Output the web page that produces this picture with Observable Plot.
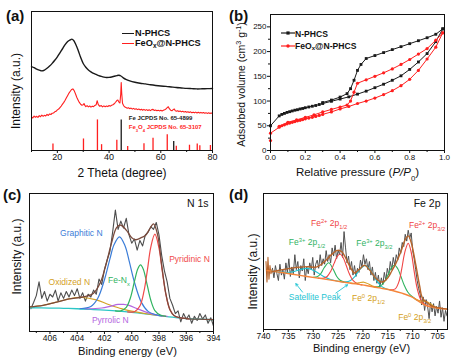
<!DOCTYPE html>
<html><head><meta charset="utf-8">
<script src="https://cdn.jsdelivr.net/npm/d3@7"></script>
<script src="https://cdn.jsdelivr.net/npm/@observablehq/plot@0.6"></script>
<style>
html,body{margin:0;padding:0;background:#fff}
#fig{position:relative;width:454px;height:359px;overflow:hidden;font-family:'Liberation Sans',Arial,Helvetica,sans-serif;color:#111}
.abs{position:absolute;white-space:nowrap;line-height:1}
.plab{font-weight:bold;font-size:15px;transform:translateY(-50%)}
.leg{font-weight:bold;transform:translateY(-50%)}
.leg sub{font-size:70%;vertical-align:-0.25em;line-height:0}
</style></head>
<body><div id="fig"></div>
<script>
// ---------------- (a) XRD ----------------
const xrdNPHCS = [[10,60.4],[11,59.6],[12,58.5],[13,57.8],[14,57.3],[15,57.9],[16,59.2],[17,60.8],[18,62.7],[19,64.9],[20,67.4],[21,70.3],[22,73.2],[23,76.2],[24,78.4],[25,79.6],[25.6,80.1],[26.3,79.2],[27,76.8],[28,72.3],[29,67.0],[30,62.6],[31,59.9],[32,57.9],[33,56.6],[34,55.5],[35,54.7],[36,53.9],[37,53.3],[38,52.8],[39,52.5],[40,52.6],[41,52.9],[42,53.4],[43,53.9],[43.8,54.1],[44.6,53.6],[45.5,52.3],[46.5,51.2],[48,50.1],[50,49.1],[52,48.4],[54,47.9],[56,47.3],[58,46.8],[60,46.4],[62,46.1],[64,45.7],[66,45.3],[68,45.0],[70,44.7],[72,44.5],[74,44.3],[76,44.4],[78,44.5],[80,44.6]];
const xrdFeOx = [[10,24.2],[10.5,23.4],[11,24.8],[11.5,23.9],[12,24.6],[12.5,23.8],[13,25.1],[13.5,24.3],[14,25.4],[14.5,24.6],[15,25.3],[15.5,24.8],[16,26.0],[16.5,25.2],[17,26.3],[17.5,25.9],[18,26.8],[18.5,27.0],[19,27.8],[19.5,28.2],[20,29.2],[20.5,29.8],[21,30.9],[21.5,32.0],[22,33.4],[22.5,34.6],[23,36.1],[23.5,37.9],[24,39.6],[24.5,41.3],[25,42.6],[25.5,43.9],[26,44.3],[26.5,43.1],[27,40.8],[27.5,38.3],[28,36.4],[28.5,34.6],[29,33.3],[29.5,32.6],[30,32.9],[30.3,33.8],[30.7,32.2],[31,31.6],[31.5,32.3],[32,31.4],[32.5,32.0],[33,31.2],[33.5,31.9],[34,31.5],[34.5,32.4],[35,32.9],[35.4,35.8],[35.8,33.2],[36.3,31.9],[37,32.3],[37.5,31.4],[38,32.1],[38.5,31.5],[39,32.0],[39.5,31.6],[40,32.4],[40.5,31.9],[41,32.6],[41.5,32.9],[42,33.6],[42.5,34.7],[43,35.9],[43.4,36.3],[43.8,34.8],[44.2,34.2],[44.5,40.5],[44.7,48.9],[44.9,41.0],[45.2,34.0],[45.6,32.4],[46,31.4],[46.5,31.0],[47,30.4],[47.5,30.8],[48,30.1],[48.5,30.5],[49,29.8],[49.5,30.3],[50,29.6],[50.5,30.0],[51,29.4],[51.5,29.9],[52,29.2],[52.5,29.7],[53,29.0],[53.5,29.6],[54,28.9],[54.5,29.4],[55,28.8],[55.5,29.3],[56,28.7],[56.5,29.4],[57,29.6],[57.5,28.8],[58,29.1],[58.5,28.6],[59,29.0],[59.5,28.5],[60,28.9],[60.5,28.4],[61,28.9],[61.5,29.3],[62,29.9],[62.5,30.8],[62.9,31.5],[63.3,30.1],[63.8,29.0],[64.3,28.6],[64.8,29.4],[65.2,29.9],[65.6,28.7],[66,28.2],[66.5,28.6],[67,28.0],[67.5,28.4],[68,27.8],[68.5,28.2],[69,27.6],[69.5,28.1],[70,27.5],[70.5,27.9],[71,27.4],[71.5,27.8],[72,27.2],[72.5,27.6],[73,27.1],[73.5,27.6],[74,27.0],[74.5,27.5],[75,27.0],[75.5,27.4],[76,26.9],[76.5,27.3],[77,26.8],[77.5,27.2],[78,26.7],[78.5,27.1],[79,26.7],[79.5,27.0],[80,26.7]];
const feRefTheta = [44.7, 65.0];
const feRefInt = [22, 6.5];
const fe3o4RefTheta = [18.3, 30.1, 35.5, 37.1, 43.0, 47.2, 53.5, 57.0, 62.5, 66.0, 71.1, 74.1, 75.1, 79.2];
const fe3o4RefInt = [4.6, 8.3, 22, 4.2, 7.4, 2.9, 4.9, 8.8, 11.4, 3.0, 3.8, 4.7, 3.5, 3.6];
const jcpdsLabels = ["Fe JCPDS No. 65-4899", "Fe_{3}O_{4} JCPDS No. 65-3107"];
const jcpdsLabelTheta = 47.6;
const jcpdsLabelY = [23.6, 17.1];
const xrdTicks = [20, 40, 60, 80];
const xrdMinor = [10, 30, 50, 70];

// ---------------- (b) N2 isotherms ----------------
const isoNPHCSads = [[0.0,50],[0.05,70],[0.065,73],[0.08,75],[0.095,77],[0.11,78.5],[0.125,80],[0.14,81.5],[0.155,82.5],[0.17,84],[0.185,85],[0.2,86.5],[0.22,88],[0.24,89.5],[0.26,91],[0.28,93],[0.3,95],[0.35,99.5],[0.4,104],[0.45,108.5],[0.5,114],[0.55,120],[0.6,127],[0.65,134],[0.7,142],[0.75,151],[0.8,164],[0.85,179],[0.9,196],[0.95,220],[0.99,246]];
const isoNPHCSdes = [[0.99,246],[0.95,235],[0.9,228],[0.85,222],[0.8,216],[0.75,210],[0.7,204],[0.65,198],[0.6,192],[0.55,186],[0.52,174],[0.5,162],[0.48,142],[0.46,125],[0.44,115],[0.4,108],[0.35,102],[0.3,97]];
const isoFeOxAds = [[0.0,20],[0.0,35],[0.05,47],[0.065,50],[0.08,52],[0.095,54],[0.11,55.5],[0.125,57],[0.14,58.5],[0.155,60],[0.17,61],[0.185,62.5],[0.2,64],[0.22,65.5],[0.24,67],[0.26,69],[0.28,71],[0.3,73],[0.35,78],[0.4,84],[0.45,89],[0.5,95],[0.55,100],[0.6,106],[0.65,113],[0.7,121],[0.75,131],[0.8,144],[0.85,162],[0.9,185],[0.95,209],[0.99,238]];
const isoFeOxDes = [[0.99,238],[0.95,223],[0.9,206],[0.85,195],[0.8,184],[0.75,174],[0.7,165],[0.65,157],[0.6,150],[0.55,143],[0.5,136],[0.48,118],[0.46,100],[0.44,92],[0.4,88],[0.35,83],[0.3,78],[0.25,72],[0.2,67],[0.15,62],[0.1,57],[0.05,49]];
const isoXTicks = [0, 0.2, 0.4, 0.6, 0.8, 1.0];
const isoXMinor = [0.1, 0.3, 0.5, 0.7, 0.9];
const isoYTicks = [0, 50, 100, 150, 200, 250];
const isoYMinor = [25, 75, 125, 175, 225];

// ---------------- (c) N 1s ----------------
const n1sRaw = [[407.4,16.5],[407.2,21],[407.0,26],[406.8,36],[406.6,24],[406.4,29],[406.2,22],[406.0,27],[405.8,25],[405.6,30],[405.4,22],[405.2,28],[405.0,24],[404.8,29],[404.6,25],[404.4,30],[404.2,26],[404.0,31],[403.8,24],[403.6,28],[403.4,22],[403.2,27],[403.0,25],[402.8,30],[402.6,27],[402.4,38],[402.2,34],[402.0,45],[401.8,52],[401.6,58],[401.4,72],[401.2,88],[401.0,74],[400.8,80],[400.6,75],[400.4,82],[400.2,70],[400.0,64],[399.8,67],[399.6,59],[399.4,66],[399.2,62],[399.0,70],[398.8,72],[398.6,76],[398.4,74],[398.2,79],[398.0,70],[397.8,55],[397.6,44],[397.4,36],[397.2,24],[397.0,19],[396.8,13],[396.6,15],[396.4,7],[396.2,13],[396.0,9],[395.8,12],[395.6,6],[395.4,11],[395.2,8],[395.0,13],[394.8,9],[394.6,12],[394.4,6],[394.2,10],[394.0,4]];
const n1sEnvelope = [[407.5,17.8],[406.5,19.0],[405.5,21.3],[404.6,23.6],[403.6,25.0],[402.8,27.8],[402.3,35.5],[401.9,48],[401.5,63.5],[401.1,75.5],[400.8,77],[400.4,73.5],[400.0,68],[399.7,66.5],[399.3,68],[399.0,69.5],[398.7,74],[398.4,78],[398.1,70],[397.8,48],[397.5,27.5],[397.2,16],[396.9,11.6],[396.5,10.1],[396,9.4],[395,8.9],[394,8.5]];
const n1sBackground = [[407.5,17.2],[406,17.0],[405,16.8],[404,16.5],[403,16.1],[402,15.5],[401,14.8],[400,13.9],[399,12.8],[398,11.6],[397,10.4],[396,9.4],[395,8.9],[394,8.5]];
const n1sOxidized = [[407.5,17.8],[406.5,19.0],[405.5,21.35],[404.6,23.7],[403.6,24.65],[402.6,22.9],[401.7,19.6],[400.7,16.4],[399.7,14.2],[398.7,12.5],[397.5,11.0]];
const n1sGraphitic = [[403.8,16.5],[403.0,18.1],[402.5,23.9],[402.0,37.5],[401.6,52.6],[401.3,62.8],[400.9,68.6],[400.5,62.3],[400.2,51.6],[399.8,35.7],[399.3,21.3],[398.8,14.6],[398.3,12.35],[397.8,11.35]];
const n1sPyrrolic = [[403.4,16.35],[402.2,17.05],[401.6,18.25],[401.0,19.6],[400.6,19.65],[400.2,18.9],[399.6,16.55],[399.0,14.25],[398.2,12.1],[397.4,10.9]];
const n1sFeNx = [[401.2,14.95],[400.8,15.0],[400.4,17.5],[400.1,24.3],[399.8,36.3],[399.55,45.5],[399.35,48.25],[399.15,45.1],[398.9,35.3],[398.6,22.65],[398.3,15.2],[397.9,11.9],[397.5,11.0]];
const n1sPyridinic = [[400.3,14.2],[399.8,14.35],[399.4,18.5],[399.1,29.2],[398.85,44.5],[398.6,61.2],[398.3,70.5],[398.0,60.5],[397.75,43.2],[397.5,27.3],[397.2,15.8],[396.8,10.85],[396.3,9.7],[395.8,9.2]];
const n1sLabelText = ["Graphitic N", "Pyridinic N", "Oxidized N", "Fe-N_{x}", "Pyrrolic N"];
const n1sLabelBE = [403.7, 395.76, 404.58, 400.94, 401.57];
const n1sLabelY = [71.2, 52.3, 35.6, 37, 8];
const n1sTicks = [406, 404, 402, 400, 398, 396, 394];
const n1sMinor = [407, 405, 403, 401, 399, 397, 395];

// ---------------- (d) Fe 2p ----------------
const fe2pRawLead = [[739.5,50],[739.3,35],[739.1,53],[738.9,37],[738.7,47],[738.5,41],[738.3,44]];
const fe2pRaw = [[738.2,45],[737.9,38],[737.6,47],[737.3,41],[737.0,36],[736.7,48],[736.4,40],[736.1,44],[735.8,37],[735.5,49],[735.2,42],[734.9,52],[734.6,39],[734.3,46],[734.0,41],[733.7,55],[733.4,44],[733.1,50],[732.8,38],[732.5,47],[732.2,43],[731.9,52],[731.6,36],[731.3,46],[731.0,41],[730.7,49],[730.4,44],[730.1,53],[729.8,40],[729.5,48],[729.2,51],[728.9,45],[728.6,55],[728.3,47],[728.0,52],[727.7,48],[727.4,58],[727.1,50],[726.8,55],[726.5,49],[726.2,60],[725.9,54],[725.6,62],[725.3,52],[725.0,58],[724.7,55],[724.4,64],[724.1,53],[723.8,72],[723.5,60],[723.2,49],[722.9,54],[722.6,44],[722.3,50],[722.0,40],[721.7,47],[721.4,39],[721.1,45],[720.8,42],[720.5,51],[720.2,46],[719.9,55],[719.6,48],[719.3,52],[719.0,44],[718.7,50],[718.4,40],[718.1,46],[717.8,36],[717.5,42],[717.2,34],[716.9,40],[716.6,31],[716.3,38],[716.0,33],[715.7,42],[715.4,36],[715.1,45],[714.8,40],[714.5,50],[714.2,44],[713.9,53],[713.6,47],[713.3,55],[713.0,51],[712.7,60],[712.4,56],[712.1,64],[711.8,61],[711.5,70],[711.2,65],[710.9,73],[710.6,67],[710.3,71],[710.0,58],[709.7,52],[709.4,44],[709.1,36],[708.8,30],[708.5,26],[708.2,18],[707.9,24],[707.6,14],[707.3,22],[707.0,17],[706.7,8],[706.4,20],[706.1,13],[705.8,19],[705.5,10],[705.2,17],[704.9,12],[704.6,21],[704.3,9],[704.0,16],[703.7,6],[703.4,14],[703.1,10]];
const fe2pEnvelope = [[738.3,42.5],[737,43.5],[735,44.8],[732.7,45.9],[731,46.2],[729.4,45.9],[728.5,47.5],[727.7,50],[726.5,54.5],[725.1,58.2],[724.2,57],[723.4,52],[722.5,45.5],[721.7,41.5],[720.8,44],[719.7,47.2],[718.6,43.5],[717.4,37.5],[716.1,34.9],[715,38],[714.2,43],[713.4,48.4],[712.4,57],[711.4,66.8],[710.9,68.8],[710.3,64],[709.4,48],[708.6,32],[708.1,23.5],[707.2,20.0],[706.3,17.5],[705.4,16.5],[703,15.0]];
const fe2pBackground = [[739.3,43.4],[736,41.7],[732.7,39.8],[729.4,38.0],[726.1,36.1],[722.7,34.2],[719.4,32.4],[716.7,30.6],[714.1,28.7],[712,26.5],[710.1,23.8],[708.7,20.5],[707.4,17.7],[705.5,16.0],[703,15.0]];
const fe2pSat1 = [[738.5,43.0],[737,42.3],[735.5,41.9],[734,42.5],[732.5,44.2],[731,44.9],[729.5,42.6],[728,39.2],[726.5,36.8],[725,35.5],[723.5,34.7]];
const fe2pSat2 = [[724.5,35.3],[723.5,35.0],[722.5,36.1],[721.5,39.5],[720.7,43.8],[719.5,47.15],[718.3,42.4],[717.5,37.2],[716.5,32.5],[715.5,30.1],[714.5,29.1]];
const fe2pFe3p12 = [[730.0,38.4],[729.2,38.8],[728.5,41.0],[727.8,45.4],[726.9,49.1],[726.0,44.4],[725.3,39.2],[724.6,36.2],[723.8,34.9]];
const fe2pFe2p12 = [[729,37.8],[728,37.7],[727.2,39.0],[726.5,42.7],[725.8,48.6],[725.2,53.6],[724.6,55.5],[724.0,53.0],[723.4,47.4],[722.7,40.6],[722.0,36.1],[721.2,33.8],[720.2,32.8]];
const fe2pFe3p32 = [[718.0,31.6],[717.0,31.4],[716.2,32.8],[715.5,36.2],[714.8,41.6],[714.2,45.9],[713.6,47.2],[713.0,44.7],[712.4,39.3],[711.7,32.5],[711.0,27.6],[710.2,24.5],[709.2,21.7]];
const fe2pFe2p32 = [[714.5,29.1],[713.5,29.9],[712.8,34.8],[712.2,44.6],[711.6,56.6],[710.9,63.4],[710.3,56.8],[709.7,42.7],[709.1,30.2],[708.4,22.1],[707.6,18.4],[706.8,17.1]];
const fe2pFe0p12 = [[722.5,34.15],[721.5,34.0],[720.8,34.4],[719.8,34.8],[718.8,33.3],[718.1,32.0],[717.1,31.0]];
const fe2pFe0p32 = [[709.5,22.4],[708.6,21.2],[707.9,20.9],[707.2,20.5],[706.5,19.1],[705.8,17.2],[704.9,15.9]];
const fe2pLabelText = ["Fe^{2+} 2p_{1/2}", "Fe^{3+} 2p_{1/2}", "Fe^{3+} 2p_{3/2}", "Fe^{2+} 2p_{3/2}", "Satellite Peak", "Fe^{0} 2p_{1/2}", "Fe^{0} 2p_{3/2}"];
const fe2pLabelBE = [726.8, 731.25, 717.7, 707.1, 729.7, 718.9, 709.6];
const fe2pLabelY = [78.1, 64.1, 63.4, 76.7, 23.6, 22.9, 8.8];
const satArrowFrom = [[732.15, 27.5], [725.45, 26.8]];
const satArrowTo = [[733.5, 33.7], [723.1, 32.9]];
const fe2pTicks = [740, 735, 730, 725, 720, 715, 710, 705];
const fe2pMinor = [737.5, 732.5, 727.5, 722.5, 717.5, 712.5, 707.5];

// ---------------- drawing ----------------
const FONT = "'Liberation Sans', Arial, Helvetica, sans-serif";
const RED = "#ff1f1f", BLK = "#1a1a1a";
const fig = document.getElementById("fig");
const X = d => d[0], Y = d => d[1];

function richify(svg) {
  const ns = "http://www.w3.org/2000/svg";
  svg.querySelectorAll("text").forEach(t => {
    if (t.querySelector("tspan")) return;
    const s = t.textContent;
    if (!/[\^_*]\{/.test(s)) return;
    t.textContent = "";
    const re = /([\^_*])\{([^}]*)\}/g;
    let last = 0, m;
    const add = (str, kind) => {
      const ts = document.createElementNS(ns, "tspan");
      ts.textContent = str;
      if (kind === "^") { ts.setAttribute("baseline-shift", "super"); ts.setAttribute("font-size", "68%"); }
      else if (kind === "_") { ts.setAttribute("baseline-shift", "sub"); ts.setAttribute("font-size", "68%"); }
      else if (kind === "*") ts.setAttribute("font-style", "italic");
      t.appendChild(ts);
    };
    while ((m = re.exec(s))) { if (m.index > last) add(s.slice(last, m.index)); add(m[2], m[1]); last = re.lastIndex; }
    if (last < s.length) add(s.slice(last));
  });
}
function place(svg, left, top) {
  richify(svg);
  const d = document.createElement("div");
  d.style.cssText = `position:absolute;left:${left}px;top:${top}px;`;
  d.appendChild(svg); fig.appendChild(d);
}
function html(str, left, top, cls, css) {
  const d = document.createElement("div");
  d.className = "abs " + (cls || "");
  d.innerHTML = str;
  d.style.left = left + "px"; d.style.top = top + "px";
  if (css) d.style.cssText += css;
  fig.appendChild(d); return d;
}
const baseStyle = {fontFamily: FONT, fontSize: "8.5px", background: "transparent", overflow: "visible", color: "#111"};
const T = d => d;
const xTitle = (s, dx, dy, fs) => Plot.text([s], {text: T, frameAnchor: "bottom", dx, dy, fontSize: fs, textAnchor: "middle", lineAnchor: "middle"});
const yTitle = (s, dx, dy, fs) => Plot.text([s], {text: T, frameAnchor: "left", dx, dy, fontSize: fs, rotate: -90, textAnchor: "middle", lineAnchor: "middle"});

// (a)
const feTable = feRefTheta.map((t, i) => ({t, h: feRefInt[i]}));
const fe3o4Table = fe3o4RefTheta.map((t, i) => ({t, h: fe3o4RefInt[i]}));
place(Plot.plot({
  width: 227, height: 180, marginLeft: 31, marginRight: 15, marginTop: 11, marginBottom: 30,
  style: baseStyle,
  x: {domain: [10, 80], label: null},
  y: {domain: [0, 100], axis: null},
  marks: [
    Plot.ruleX(fe3o4Table, {x: "t", y1: 0, y2: "h", stroke: RED, strokeWidth: 1.3}),
    Plot.ruleX(feTable, {x: "t", y1: 0, y2: "h", stroke: BLK, strokeWidth: 1.3}),
    Plot.line(xrdFeOx, {x: X, y: Y, stroke: RED, strokeWidth: 1.1}),
    Plot.line(xrdNPHCS, {x: X, y: Y, stroke: BLK, strokeWidth: 1.4, curve: "catmull-rom"}),
    Plot.text([jcpdsLabels[0]], {text: T, x: () => jcpdsLabelTheta, y: () => jcpdsLabelY[0], textAnchor: "start", fontSize: 6, fontWeight: "bold", fill: "#222"}),
    Plot.text([jcpdsLabels[1]], {text: T, x: () => jcpdsLabelTheta, y: () => jcpdsLabelY[1], textAnchor: "start", fontSize: 6, fontWeight: "bold", fill: RED}),
    Plot.frame({stroke: "#111"}),
    Plot.axisX({ticks: xrdTicks, tickSize: 3, tickPadding: 0, fontSize: 9, label: null}),
    Plot.axisX({ticks: xrdMinor, tickSize: 2, tickFormat: () => "", label: null}),
    xTitle("2 Theta (degree)", 0, 23, 12),
    yTitle("Intensity (a.u.)", -15, 10, 12)
  ]
}), 0, 0);

// (b)
place(Plot.plot({
  width: 227, height: 180, marginLeft: 43, marginRight: 10, marginTop: 14, marginBottom: 30,
  style: baseStyle,
  x: {domain: [0, 1], label: null},
  y: {domain: [0, 275], label: null},
  marks: [
    Plot.line(isoNPHCSads, {x: X, y: Y, stroke: BLK, strokeWidth: 1}),
    Plot.line(isoNPHCSdes, {x: X, y: Y, stroke: BLK, strokeWidth: 1}),
    Plot.dot(isoNPHCSads, {x: X, y: Y, symbol: "square", r: 1.6, fill: BLK}),
    Plot.dot(isoNPHCSdes, {x: X, y: Y, symbol: "square", r: 1.6, fill: BLK}),
    Plot.line(isoFeOxAds, {x: X, y: Y, stroke: RED, strokeWidth: 1}),
    Plot.line(isoFeOxDes, {x: X, y: Y, stroke: RED, strokeWidth: 1}),
    Plot.dot(isoFeOxAds, {x: X, y: Y, r: 1.6, fill: RED}),
    Plot.dot(isoFeOxDes, {x: X, y: Y, r: 1.6, fill: RED}),
    Plot.frame({stroke: "#111"}),
    Plot.axisX({ticks: isoXTicks, tickSize: 3, tickPadding: 0.8, fontSize: 8, tickFormat: d3.format(".1f"), label: null}),
    Plot.axisX({ticks: isoXMinor, tickSize: 2, tickFormat: () => "", label: null}),
    Plot.axisY({ticks: isoYTicks, tickSize: 3, tickPadding: 1, fontSize: 8, label: null}),
    Plot.axisY({ticks: isoYMinor, tickSize: 2, tickFormat: () => "", label: null}),
    xTitle("Relative pressure (*{P/P}_{0})", 0, 22, 11.5),
    yTitle("Adsorbed volume (cm^{3} g^{-1})", -29, 2, 10.5)
  ]
}), 227, 0);

// (c)
const n1sColors = ["#3b7dd8", "#f04a4a", "#d4a126", "#2fb35f", "#b366e0"];
place(Plot.plot({
  width: 227, height: 180, marginLeft: 29, marginRight: 14, marginTop: 13, marginBottom: 29,
  style: baseStyle,
  x: {domain: [407.5, 394], label: null},
  y: {domain: [0, 100], axis: null},
  marks: [
    Plot.line(n1sRaw, {x: X, y: Y, stroke: "#4d4d4d", strokeWidth: 1.1}),
    Plot.line(n1sBackground, {x: X, y: Y, stroke: "#2cc6c6", strokeWidth: 1.3, curve: "catmull-rom"}),
    Plot.line(n1sOxidized, {x: X, y: Y, stroke: n1sColors[2], strokeWidth: 1.2, curve: "catmull-rom"}),
    Plot.line(n1sPyrrolic, {x: X, y: Y, stroke: n1sColors[4], strokeWidth: 1.2, curve: "catmull-rom"}),
    Plot.line(n1sGraphitic, {x: X, y: Y, stroke: n1sColors[0], strokeWidth: 1.2, curve: "catmull-rom"}),
    Plot.line(n1sFeNx, {x: X, y: Y, stroke: n1sColors[3], strokeWidth: 1.2, curve: "catmull-rom"}),
    Plot.line(n1sPyridinic, {x: X, y: Y, stroke: n1sColors[1], strokeWidth: 1.2, curve: "catmull-rom"}),
    Plot.line(n1sEnvelope, {x: X, y: Y, stroke: "#7a4a3c", strokeWidth: 1.3, curve: "catmull-rom"}),
    ...n1sLabelText.map((s, i) => Plot.text([s], {text: T, x: () => n1sLabelBE[i], y: () => n1sLabelY[i], fill: n1sColors[i], fontSize: 8.5})),
    Plot.text(["N 1s"], {text: T, frameAnchor: "top-right", dx: -5, dy: 10, textAnchor: "end", lineAnchor: "middle", fontSize: 10.5}),
    Plot.frame({stroke: "#111"}),
    Plot.axisX({ticks: n1sTicks, tickSize: 3, tickPadding: 0.5, label: null}),
    Plot.axisX({ticks: n1sMinor, tickSize: 2, tickFormat: () => "", label: null}),
    xTitle("Binding energy (eV)", 6, 19.5, 11.2),
    yTitle("Intensity (a.u.)", -12, -6, 12)
  ]
}), 0, 180);

// (d)
const fe2pColors = ["#f04444", "#2fb35f", "#2fb35f", "#f04444", "#1fc4d2", "#d4a020", "#d4a020"];
const arrows = satArrowFrom.map((f, i) => ({x1: f[0], y1: f[1], x2: satArrowTo[i][0], y2: satArrowTo[i][1]}));
place(Plot.plot({
  width: 227, height: 180, marginLeft: 36, marginRight: 7, marginTop: 13, marginBottom: 31,
  style: baseStyle,
  x: {domain: [740, 703], label: null},
  y: {domain: [0, 100], axis: null},
  marks: [
    Plot.line(fe2pRaw, {x: X, y: Y, stroke: "#505050", strokeWidth: 1}),
    Plot.line(fe2pRawLead, {x: X, y: Y, stroke: "#b8642a", strokeWidth: 1.1}),
    Plot.line(fe2pSat1, {x: X, y: Y, stroke: "#1fc4d2", strokeWidth: 1.1, curve: "catmull-rom"}),
    Plot.line(fe2pSat2, {x: X, y: Y, stroke: "#1fc4d2", strokeWidth: 1.1, curve: "catmull-rom"}),
    Plot.line(fe2pFe3p12, {x: X, y: Y, stroke: "#2fb35f", strokeWidth: 1.1, curve: "catmull-rom"}),
    Plot.line(fe2pFe2p12, {x: X, y: Y, stroke: "#f04444", strokeWidth: 1.1, curve: "catmull-rom"}),
    Plot.line(fe2pFe3p32, {x: X, y: Y, stroke: "#2fb35f", strokeWidth: 1.1, curve: "catmull-rom"}),
    Plot.line(fe2pFe2p32, {x: X, y: Y, stroke: "#f04444", strokeWidth: 1.1, curve: "catmull-rom"}),
    Plot.line(fe2pFe0p12, {x: X, y: Y, stroke: "#d4a020", strokeWidth: 1.1, curve: "catmull-rom"}),
    Plot.line(fe2pFe0p32, {x: X, y: Y, stroke: "#d4a020", strokeWidth: 1.1, curve: "catmull-rom"}),
    Plot.line(fe2pBackground, {x: X, y: Y, stroke: "#f5853a", strokeWidth: 1.4, curve: "catmull-rom"}),
    Plot.line(fe2pEnvelope, {x: X, y: Y, stroke: "#b8642a", strokeWidth: 1.4, curve: "catmull-rom"}),
    Plot.arrow(arrows, {x1: "x1", y1: "y1", x2: "x2", y2: "y2", stroke: "#1fc4d2", strokeWidth: 0.9, headLength: 4}),
    ...fe2pLabelText.map((s, i) => Plot.text([s], {text: T, x: () => fe2pLabelBE[i], y: () => fe2pLabelY[i], fill: fe2pColors[i], fontSize: 8.5})),
    Plot.text(["Fe 2p"], {text: T, frameAnchor: "top-right", dx: -7, dy: 10, textAnchor: "end", lineAnchor: "middle", fontSize: 10.5}),
    Plot.frame({stroke: "#111"}),
    Plot.axisX({ticks: fe2pTicks, tickSize: 3, tickPadding: 0, label: null}),
    Plot.axisX({ticks: fe2pMinor, tickSize: 2, tickFormat: () => "", label: null}),
    xTitle("Binding energy (eV)", 6, 18.5, 11),
    yTitle("Intensity (a.u.)", -10, 10, 12)
  ]
}), 227, 180);

// legends (HTML)
html("", 121.5, 32.6, "", `width:12px;border-top:1.5px solid ${BLK}`);
html("N-PHCS", 135, 33.5, "leg", "font-size:9.2px");
html("", 121.5, 42.6, "", `width:12px;border-top:1.5px solid ${RED}`);
html("FeO<sub>x</sub>@N-PHCS", 135, 44, "leg", "font-size:9.2px;color:#111");
html(`<svg width="14" height="8" style="display:block"><line x1="0" x2="14" y1="4" y2="4" stroke="${BLK}" stroke-width="1.2"/><rect x="5.4" y="2.4" width="3.2" height="3.2" fill="${BLK}"/></svg>`, 280.5, 29.3, "", "line-height:0");
html("N-PHCS", 295, 33.7, "leg", "font-size:8.6px");
html(`<svg width="14" height="8" style="display:block"><line x1="0" x2="14" y1="4" y2="4" stroke="${RED}" stroke-width="1.2"/><circle cx="7" cy="4" r="1.7" fill="${RED}"/></svg>`, 280.5, 41.7, "", "line-height:0");
html("FeO<sub>x</sub>@N-PHCS", 295, 46, "leg", "font-size:8.6px");

// panel letters
html("(a)", 6, 15, "plab");
html("(b)", 229, 15, "plab");
html("(c)", 3, 193.5, "plab");
html("(d)", 229, 193.5, "plab");
</script></body></html>
